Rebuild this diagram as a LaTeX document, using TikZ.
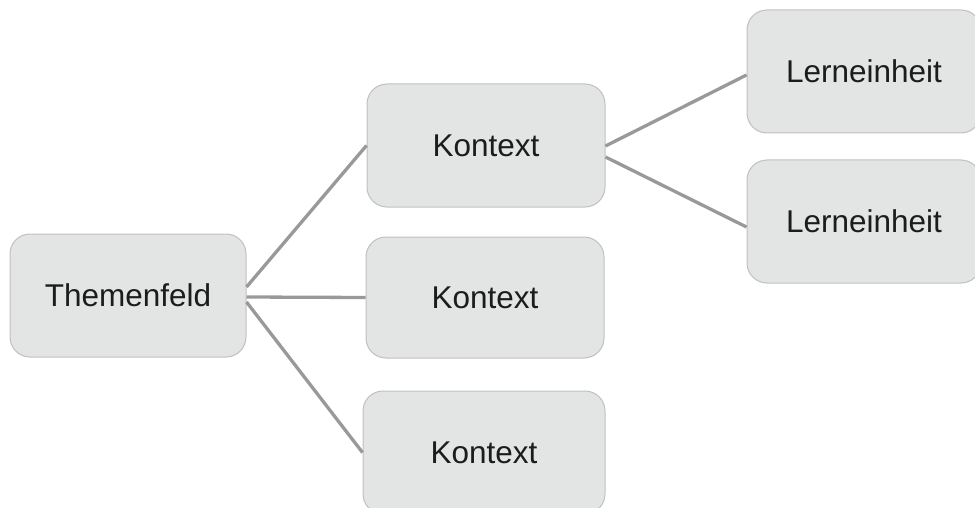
\documentclass[tikz,border=0pt]{standalone}
\usepackage{fontspec}
\setmainfont{Liberation Sans}
\definecolor{boxfill}{RGB}{227,228,228}
\definecolor{boxline}{RGB}{192,192,192}
\definecolor{linkgray}{RGB}{153,153,153}
\definecolor{labeltext}{RGB}{28,28,28}
\tikzset{
  topic/.style={draw=boxline, line width=1pt, fill=boxfill, rounded corners=20pt,
    minimum height=123pt, inner sep=0pt, text=labeltext,
    font=\fontsize{31.5pt}{36pt}\selectfont},
  link/.style={draw=linkgray, line width=3.3pt}
}
\begin{document}
\begin{tikzpicture}[x=1pt,y=-1pt]
  \useasboundingbox (0,0) rectangle (975,508);
  % root topic
  \node[topic, minimum width=236pt] (tf) at (128,295.5) {Themenfeld};
  % contexts
  \node[topic, minimum width=238pt] (k1) at (486,145.5) {Kontext};
  \node[topic, minimum width=238pt, minimum height=121pt] (k2) at (485,297.5) {Kontext};
  \node[topic, minimum width=242pt] (k3) at (484,452.5) {Kontext};
  % learning units
  \node[topic, minimum width=234pt] (l1) at (864,71.5) {Lerneinheit};
  \node[topic, minimum width=234pt] (l2) at (864,221.5) {Lerneinheit};
  % connectors (shifts are in canvas units: positive is upwards)
  \draw[link] ([yshift=8.5pt]tf.east) -- (k1.west);
  \draw[link] ([yshift=-1.5pt]tf.east) -- (k2.west);
  \draw[link] ([yshift=-6.5pt]tf.east) -- (k3.west);
  \draw[link] ([yshift=-0.5pt]k1.east) -- ([yshift=-3.5pt]l1.west);
  \draw[link] ([yshift=-11.5pt]k1.east) -- ([yshift=-5.5pt]l2.west);
\end{tikzpicture}
\end{document}
